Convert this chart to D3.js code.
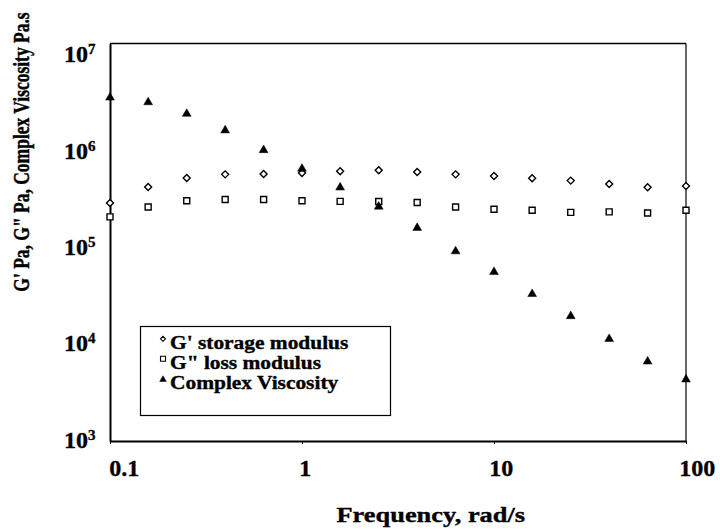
<!DOCTYPE html>
<html>
<head>
<meta charset="utf-8">
<script src="https://cdn.jsdelivr.net/npm/d3@7"></script>
<style>
  html, body { margin: 0; padding: 0; background: #fff; }
  svg { display: block; }
  text { font-family: "Liberation Serif", "Times New Roman", serif; font-weight: bold; fill: #000; stroke: #000; stroke-width: 0.35; }
</style>
</head>
<body>
<svg id="chart" width="720" height="530"></svg>
<script>
// Angular frequency sweep, rad/s
const frequency = [0.1, 0.158, 0.251, 0.398, 0.631, 1, 1.58, 2.51, 3.98, 6.31, 10, 15.8, 25.1, 39.8, 63.1, 100];
// G' storage modulus, Pa
const storageModulus = [2.48e5, 3.6e5, 4.43e5, 4.82e5, 4.86e5, 4.97e5, 5.17e5, 5.29e5, 5.09e5, 4.82e5, 4.64e5, 4.40e5, 4.17e5, 3.85e5, 3.57e5, 3.68e5];
// G" loss modulus, Pa
const lossModulus = [1.80e5, 2.26e5, 2.62e5, 2.69e5, 2.69e5, 2.62e5, 2.58e5, 2.57e5, 2.51e5, 2.26e5, 2.15e5, 2.10e5, 2.00e5, 2.02e5, 1.97e5, 2.10e5];
// Complex viscosity, Pa.s
const complexViscosity = [2.93e6, 2.63e6, 2.01e6, 1.37e6, 8.67e5, 5.63e5, 3.65e5, 2.34e5, 1.43e5, 8.31e4, 5.15e4, 3.09e4, 1.85e4, 1.09e4, 6.47e3, 4.27e3];

const xTickValues = [0.1, 1, 10, 100];
const xTickLabels = ["0.1", "1", "10", "100"];
const yTickExponents = [3, 4, 5, 6, 7];

const seriesNames = ["G' storage modulus", "G\" loss modulus", "Complex Viscosity"];
const seriesShapes = ["diamond", "square", "triangle"];

const svg = d3.select("#chart");

const x = d3.scaleLog().domain([0.1, 100]).range([110, 686]);
const y = d3.scaleLog().domain([1e3, 1e7]).range([441, 43.5]);
// label placement scales (labels sit slightly off their ticks)
const xLabelPos = d3.scaleLog().domain([0.1, 100]).range([109.3, 679.3]);
const yLabelPos = d3.scaleLog().domain([1e3, 1e7]).range([447.7, 62.3]);

// marker shapes, centred on (0,0)
function shapePath(kind, s) {
  const h = s / 2;
  if (kind === "diamond") return `M0,${-h}L${h},0L0,${h}L${-h},0Z`;
  if (kind === "square") return `M${-h},${-h}H${h}V${h}H${-h}Z`;
  return `M0,${-h}L${h * 1.1},${h * 0.9}L${-h * 1.1},${h * 0.9}Z`;
}

// plot frame
const [x0, x1] = x.range();
const [yb, yt] = y.range();
svg.append("line").attr("x1", x0).attr("x2", x1).attr("y1", yt).attr("y2", yt)
  .attr("stroke", "#000").attr("stroke-width", 1.6);
svg.append("line").attr("x1", x1).attr("x2", x1).attr("y1", yt).attr("y2", yb)
  .attr("stroke", "#000").attr("stroke-width", 1.2);

// bottom axis with short ticks
const xAxis = d3.axisBottom(x).tickValues(xTickValues).tickSize(3).tickSizeOuter(0).tickFormat("");
const gx = svg.append("g").attr("transform", `translate(0,${yb})`).call(xAxis);
gx.select(".domain").attr("stroke", "#000").attr("stroke-width", 2);
gx.selectAll(".tick line").attr("stroke", "#000").attr("stroke-width", 1);

// left axis line
const yAxis = d3.axisLeft(y).tickValues([]).tickSizeOuter(0);
const gy = svg.append("g").attr("transform", `translate(${x0},0)`).call(yAxis);
gy.select(".domain").attr("stroke", "#000").attr("stroke-width", 2);

// x tick labels
svg.append("g").selectAll("text").data(xTickValues).join("text")
  .attr("x", d => xLabelPos(d))
  .attr("y", yb + 34.5)
  .attr("font-size", 24)
  .text((d, i) => xTickLabels[i]);

// y tick labels: 10 with superscript exponent
const yLab = svg.append("g").selectAll("text").data(yTickExponents).join("text")
  .attr("x", 64)
  .attr("y", d => yLabelPos(Math.pow(10, d)))
  .attr("font-size", 24);
yLab.append("tspan").text("10");
yLab.append("tspan").attr("font-size", 15).attr("dy", -8).text(d => d);

// axis titles
svg.append("text")
  .attr("transform", "translate(336.5,522) scale(1.2,1)")
  .attr("font-size", 22)
  .text("Frequency, rad/s");

svg.append("text")
  .attr("transform", "translate(29,152) scale(1.3,1) rotate(-90)")
  .attr("text-anchor", "middle")
  .attr("font-size", 17.5)
  .text("G' Pa, G\" Pa, Complex Viscosity Pa.s");

// data series
const seriesData = [storageModulus, lossModulus, complexViscosity];
const markerSizes = [7, 6, 8];
seriesData.forEach((vals, si) => {
  const kind = seriesShapes[si];
  svg.append("g").selectAll("path").data(vals).join("path")
    .attr("transform", (d, i) => `translate(${x(frequency[i])},${y(d)})`)
    .attr("d", shapePath(kind, markerSizes[si]))
    .attr("fill", kind === "triangle" ? "#000" : "#fff")
    .attr("stroke", "#000")
    .attr("stroke-width", kind === "triangle" ? 0.5 : 1.4);
});

// legend
const lg = svg.append("g");
lg.append("rect").attr("x", 140.5).attr("y", 326.5).attr("width", 250).attr("height", 89)
  .attr("fill", "#fff").attr("stroke", "#000").attr("stroke-width", 1.2);
const legendSizes = [5, 5, 6];
seriesNames.forEach((name, i) => {
  const by = 349.3 + i * 20;
  lg.append("path")
    .attr("transform", `translate(163,${by - 10.5})`)
    .attr("d", shapePath(seriesShapes[i], legendSizes[i]))
    .attr("fill", seriesShapes[i] === "triangle" ? "#000" : "#fff")
    .attr("stroke", "#000")
    .attr("stroke-width", seriesShapes[i] === "triangle" ? 0.5 : 1.1);
  lg.append("text")
    .attr("transform", `translate(170,${by}) scale(1.19,1)`)
    .attr("font-size", 18)
    .text(name);
});
</script>
</body>
</html>
